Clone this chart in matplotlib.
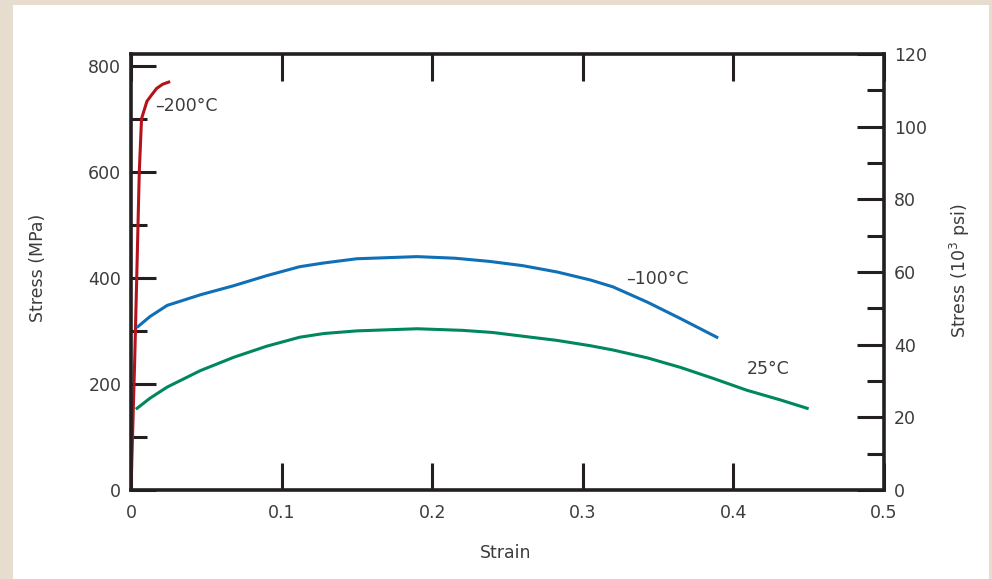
import matplotlib
matplotlib.use("Agg")
from matplotlib import pyplot as plt
from matplotlib.patches import Rectangle
from matplotlib.ticker import MultipleLocator

# Data (strain, stress in MPa)
strain_m200 = [0.0, 0.001, 0.0025, 0.0038, 0.0055, 0.007, 0.0106, 0.014, 0.017, 0.021, 0.026]
stress_m200 = [0, 100, 250, 400, 600, 700, 733, 746, 757, 765, 770]

strain_m100 = [0.0046, 0.0126, 0.024, 0.046, 0.068, 0.09, 0.112, 0.128, 0.15, 0.19,
               0.215, 0.238, 0.26, 0.283, 0.305, 0.32, 0.343, 0.365, 0.389]
stress_m100 = [308, 327, 348, 368, 385, 404, 421, 428, 436, 440,
               437, 431, 423, 411, 396, 383, 354, 323, 288]

strain_25 = [0.004, 0.0126, 0.024, 0.046, 0.068, 0.09, 0.112, 0.128, 0.15, 0.19,
             0.22, 0.24, 0.26, 0.283, 0.305, 0.32, 0.343, 0.365, 0.387, 0.409, 0.431, 0.449]
stress_25 = [154, 173, 194, 225, 250, 271, 288, 295, 300, 304,
             301, 297, 290, 282, 272, 264, 249, 231, 210, 188, 170, 154]

curve_labels = ["\u2013200\u00b0C", "\u2013100\u00b0C", "25\u00b0C"]
x_ticks = [0, 0.1, 0.2, 0.3, 0.4, 0.5]
mpa_ticks = [0, 200, 400, 600, 800]
ksi_ticks = [0, 20, 40, 60, 80, 100, 120]

W, H = 992, 579
BEIGE = "#e6ddcf"
INK = "#231f20"
TXT = "#3c3c3c"
FS = 12.5

fig = plt.figure(figsize=(W / 100, H / 100), dpi=100)
fig.patch.set_facecolor(BEIGE)
# white panel
fig.add_artist(Rectangle((13 / W, 0), (989 - 13) / W, (H - 5) / H,
                         transform=fig.transFigure, facecolor="white",
                         edgecolor="none", zorder=0))

left, right, top, bottom = 131, 884, 54, 490
ax = fig.add_axes([left / W, (H - bottom) / H, (right - left) / W, (bottom - top) / H])
ax.set_facecolor("white")

ax.plot(strain_m200, stress_m200, color="#b5121b", lw=2.2, solid_capstyle="butt")
ax.plot(strain_m100, stress_m100, color="#0f6fb7", lw=2.2)
ax.plot(strain_25, stress_25, color="#00875f", lw=2.2)

ax.set_xlim(0, 0.5)
ax.set_ylim(0, 822)

ax.text(0.016, 724, curve_labels[0], fontsize=FS, color=TXT, va="center", ha="left")
ax.text(0.329, 398, curve_labels[1], fontsize=FS, color=TXT, va="center", ha="left")
ax.text(0.409, 228, curve_labels[2], fontsize=FS, color=TXT, va="center", ha="left")

for sp in ax.spines.values():
    sp.set_linewidth(2.6)
    sp.set_color(INK)

ax.set_xticks(x_ticks)
ax.set_xticklabels(["0", "0.1", "0.2", "0.3", "0.4", "0.5"])
ax.set_yticks(mpa_ticks)
ax.yaxis.set_minor_locator(MultipleLocator(100))
ax.tick_params(axis="x", which="major", direction="in", length=19.5, width=2.2,
               top=True, bottom=True, colors=INK, labelcolor=TXT, labelsize=FS, pad=10)
ax.tick_params(axis="y", which="major", direction="in", length=18, width=2.2,
               left=True, right=False, colors=INK, labelcolor=TXT, labelsize=FS, pad=7)
ax.tick_params(axis="y", which="minor", direction="in", length=11.5, width=2.2,
               left=True, right=False, colors=INK)

ax.set_xlabel("Strain", fontsize=FS, color=TXT)
ax.xaxis.set_label_coords((506 - left) / (right - left), -(544 - bottom) / (bottom - top))
ax.set_ylabel("Stress (MPa)", fontsize=FS, color=TXT)
ax.yaxis.set_label_coords((47 - left) / (right - left), (bottom - 268) / (bottom - top))

ax2 = ax.twinx()
ax2.set_ylim(0, 120)
ax2.set_yticks(ksi_ticks)
ax2.yaxis.set_minor_locator(MultipleLocator(10))
ax2.tick_params(axis="y", which="major", direction="in", length=19.5, width=2.2,
                colors=INK, labelcolor=TXT, labelsize=FS, pad=7)
ax2.tick_params(axis="y", which="minor", direction="in", length=12, width=2.2, colors=INK)
for sp in ax2.spines.values():
    sp.set_visible(False)
ax2.set_ylabel("Stress (10$^3$ psi)", fontsize=FS, color=TXT)
ax2.yaxis.set_label_coords((948 - left) / (right - left), (bottom - 271) / (bottom - top))
ax2.yaxis.label.set_rotation(90)

fig.savefig("out.png", dpi=100, facecolor=fig.get_facecolor())
